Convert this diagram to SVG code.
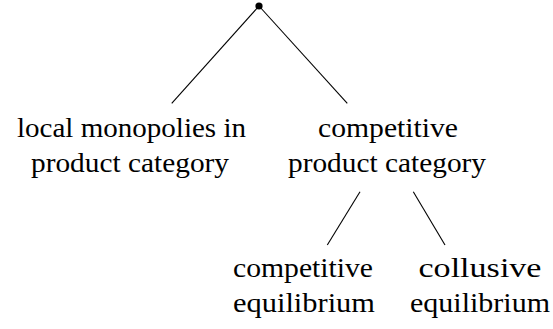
<svg xmlns="http://www.w3.org/2000/svg" width="553" height="329" viewBox="0 0 553 329">
<style>
.e{stroke:#000;stroke-width:1.1;fill:none}
.t{font-family:'Liberation Serif',serif;font-size:28px;fill:#000;text-anchor:middle}
</style>
<rect width="553" height="329" fill="#fff"/>
<g id="connectors">
<line class="e" x1="259" y1="6" x2="171.7" y2="103.3"/>
<line class="e" x1="259" y1="6" x2="347.3" y2="103.3"/>
<line class="e" x1="360" y1="191.7" x2="327.3" y2="245"/>
<line class="e" x1="413.3" y1="191.7" x2="445" y2="245"/>
</g>
<g id="root"><circle cx="259" cy="6" r="3.6" fill="#000"/></g>
<g id="local">
<text class="t" x="131.5" y="136.7" textLength="229" lengthAdjust="spacingAndGlyphs">local monopolies in</text>
<text class="t" x="130" y="171.7" textLength="198" lengthAdjust="spacingAndGlyphs">product category</text>
</g>
<g id="competitive">
<text class="t" x="388" y="136.7" textLength="140" lengthAdjust="spacingAndGlyphs">competitive</text>
<text class="t" x="387" y="171.7" textLength="198" lengthAdjust="spacingAndGlyphs">product category</text>
</g>
<g id="comp-eq">
<text class="t" x="303" y="276.7" textLength="140" lengthAdjust="spacingAndGlyphs">competitive</text>
<text class="t" x="304" y="311.7" textLength="142" lengthAdjust="spacingAndGlyphs">equilibrium</text>
</g>
<g id="coll-eq">
<text class="t" x="480" y="276.7" textLength="123" lengthAdjust="spacingAndGlyphs">collusive</text>
<text class="t" x="480" y="311.7" textLength="140" lengthAdjust="spacingAndGlyphs">equilibrium</text>
</g>
</svg>
